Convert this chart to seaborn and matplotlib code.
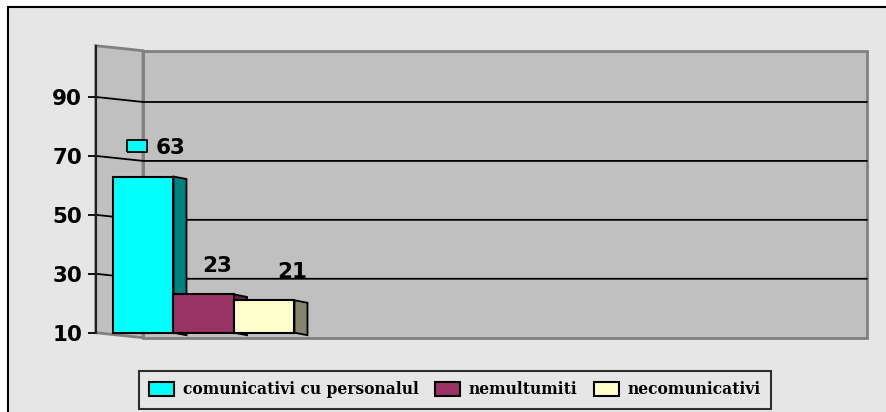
import matplotlib
matplotlib.use("Agg")
import matplotlib.pyplot as plt
import matplotlib.transforms as mtransforms
from matplotlib.patches import Rectangle, Polygon, Patch
import pandas as pd
import seaborn as sns

# data
series = ["comunicativi cu personalul", "nemultumiti", "necomunicativi"]
values = [63, 23, 21]
y_ticks = [10, 30, 50, 70, 90]

# colours (front face / side face of each bar)
face_colors = ["#00FFFF", "#993366", "#FFFFCC"]
side_colors = ["#008080", "#661f44", "#85856b"]

W, H, DPI = 887, 412, 100
fig = plt.figure(figsize=(W / DPI, H / DPI), dpi=DPI)
fig.patch.set_facecolor("white")

# grey panel with black frame (only top/left edge inside the picture)
fig.patches.append(Rectangle((8 / W, -0.1), 1.1, 1.1 - 7 / H, transform=fig.transFigure,
                             facecolor="#e6e6e6", edgecolor="black", lw=1.5, zorder=-5))

ax = fig.add_axes([95.7 / W, 1 - 337.7 / H, 771 / W, 292 / H])
ax.set_facecolor("none")

base = 10        # floor value of the chart
depth = 1.7      # depth of the walls in value units
y_top = 107.4
wall_x = 47.3 / 771   # where the back wall starts (axes fraction)

trans = mtransforms.blended_transform_factory(ax.transAxes, ax.transData)

# bars
df = pd.DataFrame({"series": series, "value": values})
sns.barplot(data=df, x="series", y="value", hue="series", palette=face_colors, width=1,
            saturation=1, edgecolor="black", linewidth=1.5, legend=False, ax=ax, zorder=3)

ax.set_ylim(base - depth, y_top)
ax.set_xlim(-0.786, 11.96)

# walls
ax.add_patch(Rectangle((wall_x, base - depth), 1 - wall_x, y_top - base, transform=trans,
                       facecolor="#c0c0c0", edgecolor="#808080", lw=2, zorder=0, clip_on=False))
ax.add_patch(Polygon([(0, base), (wall_x, base - depth), (wall_x, y_top - depth), (0, y_top)],
                     closed=True, transform=trans, facecolor="#c0c0c0", edgecolor="#808080",
                     lw=2, zorder=0.5, clip_on=False))
for t in y_ticks[1:]:
    ax.plot([0, wall_x, 1], [t, t - depth, t - depth], transform=trans, color="black",
            lw=1.3, zorder=1, clip_on=False)

bars = sorted([p for c in ax.containers for p in c], key=lambda p: p.get_x())
dx, dy = 13 / 60.5, 2.5 / 2.94
for p, sc in zip(bars, side_colors):
    h = p.get_height()
    p.set_bounds(p.get_x(), base, p.get_width(), h - base)
    x1 = p.get_x() + p.get_width()
    ax.add_patch(Polygon([(x1, base), (x1, h), (x1 + dx, h - dy), (x1 + dx, base - dy)],
                         closed=True, facecolor=sc, edgecolor="black", lw=1.3, zorder=2.5))

# value labels
label_dx = [27.5, 13.5, 28]   # horizontal shift in pixels
for i, (p, v) in enumerate(zip(bars, values)):
    cx = p.get_x() + p.get_width() / 2
    ax.annotate(str(v), (cx, v), xytext=(label_dx[i] * 0.72, 28.5 * 0.72),
                textcoords="offset points", ha="center", va="center",
                fontsize=15.5, fontweight="bold", family="DejaVu Sans", zorder=5)
key_tr = mtransforms.offset_copy(ax.transData, fig=fig, x=-6.5, y=30.2, units="dots")
ax.plot([bars[0].get_x() + bars[0].get_width() / 2], [values[0]], transform=key_tr,
        marker=[(-1, -0.62), (1, -0.62), (1, 0.62), (-1, 0.62), (-1, -0.62)],
        ms=15, mfc=face_colors[0], mec="black", mew=1.3, ls="none", zorder=5, clip_on=False)

# axis styling
for s in ["top", "right", "bottom"]:
    ax.spines[s].set_visible(False)
ax.spines["left"].set_bounds(base, y_top)
ax.spines["left"].set_color("#202020")
ax.spines["left"].set_linewidth(1.5)
ax.set_xticks([])
ax.set_yticks(y_ticks)
ax.tick_params(axis="y", length=5.8, width=1.3, pad=4, labelsize=15.5)
for lab in ax.get_yticklabels():
    lab.set_fontweight("bold")
ax.set_xlabel("")
ax.set_ylabel("")

# legend
handles = [Patch(facecolor=c, edgecolor="black", lw=1.5) for c in face_colors]
leg = fig.legend(handles, series, loc="center", bbox_to_anchor=(455 / W, 1 - 390 / H),
                 ncol=3, frameon=True, fancybox=False, handlelength=1.6, handleheight=0.96,
                 handletextpad=0.53, columnspacing=1.09, borderpad=0.65,
                 prop={"family": "DejaVu Serif", "weight": "bold", "size": 11.2})
leg.get_frame().set_edgecolor("black")
leg.get_frame().set_linewidth(1.5)
leg.get_frame().set_facecolor("none")

fig.savefig("out.png", dpi=DPI)
